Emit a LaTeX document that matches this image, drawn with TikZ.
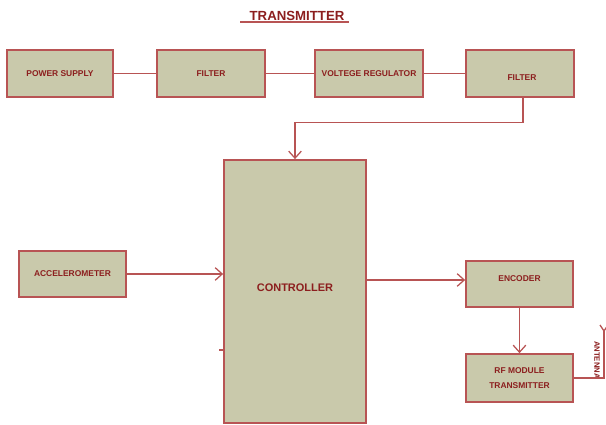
\documentclass[tikz,border=0pt]{standalone}
\usepackage{fontspec}
\setmainfont{Liberation Sans}
\usepackage{tikz}
\usetikzlibrary{arrows.meta,calc}
\usepackage{xcolor}
\definecolor{boxfill}{RGB}{201,201,171}
\definecolor{boxline}{RGB}{184,84,84}
\definecolor{boxtext}{RGB}{140,30,30}

\tikzset{
	blok/.style={draw=boxline,line width=1.2pt,fill=boxfill,text=boxtext,font=\fontsize{6}{7}\selectfont\bfseries,align=center},
	wire/.style={draw=boxline,line width=0.9pt},
	arr/.style={wire,-{Straight Barb[length=5pt,width=9pt]}}
}

\begin{document}
\begin{tikzpicture}[x=0.025cm,y=-0.025cm]
			\useasboundingbox (0,0) rectangle (606,425);
			\node[text=boxtext,font=\fontsize{9.4}{11}\selectfont\bfseries] (title) at (297,16) {TRANSMITTER};
			\draw[wire] (240,22) -- (title.south east |- 0,22);
			% supply chain
			\node[blok,minimum width=2.65cm,minimum height=1.175cm] (ps) at (60,73.5) {POWER SUPPLY};
			\node[blok,minimum width=2.7cm,minimum height=1.175cm] (f1) at (211,73.5) {FILTER};
			\node[blok,minimum width=2.7cm,minimum height=1.175cm] (vr) at (369,73.5) {VOLTEGE REGULATOR};
			\node[blok,minimum width=2.7cm,minimum height=1.175cm] (f2) at (520,73.5) {};
			\node[text=boxtext,font=\fontsize{6}{7}\selectfont\bfseries] (f2txt) at (522,78) {FILTER};
			\draw[wire] (ps) -- (f1);
			\draw[wire] (f1) -- (vr);
			\draw[wire] (vr) -- (f2);
			% main blocks
			\node[blok,minimum width=3.55cm,minimum height=6.575cm,font=\fontsize{7.8}{9}\selectfont\bfseries] (ctrl) at (295,291.5) {\raisebox{5pt}{CONTROLLER}};
			\node[blok,minimum width=2.675cm,minimum height=1.15cm] (acc) at (72.5,274) {ACCELEROMETER};
			\node[blok,minimum width=2.675cm,minimum height=1.15cm] (enc) at (519.5,284) {\raisebox{8pt}{ENCODER}};
			\node[blok,minimum width=2.675cm,minimum height=1.2cm,font=\fontsize{6}{11}\selectfont\bfseries] (rf) at (519.5,378) {RF MODULE\\TRANSMITTER};
			\coordinate (ant) at (604,331);
			\node[text=boxtext,font=\fontsize{5.5}{6}\selectfont\bfseries,rotate=-90] (antlbl) at (597,360) {ANTENNA};
			\draw[arr] ($(f2.south)+(3,0)$) -- ++(0,25) -| (ctrl.north);
			\draw[arr] (acc) -- (ctrl.west |- acc);
			\draw[arr] (ctrl.east |- 0,280) -- (enc.west |- 0,280);
			\draw[arr] (enc) -- (rf);
			\draw[wire] (rf.east) -| (ant);
			\draw[wire] (ant) -- ++(-4,-6) (ant) -- ++(4,-6);
			\draw[wire] (ctrl.west |- 0,350) -- ++(-4,0);
\end{tikzpicture}
\end{document}
